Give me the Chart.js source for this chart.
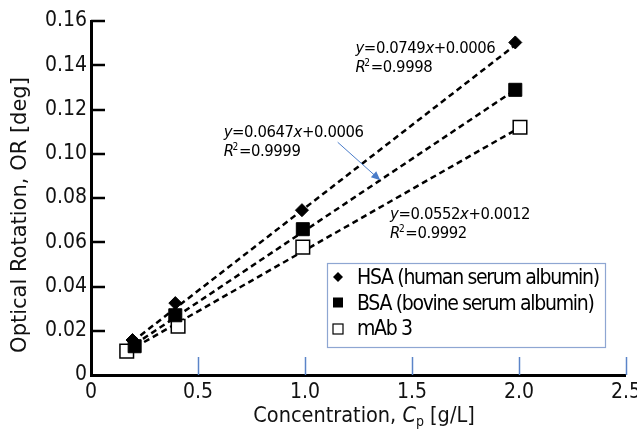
<!DOCTYPE html>
<html><head><meta charset="utf-8">
<script src="https://cdn.jsdelivr.net/npm/chart.js@4/dist/chart.umd.min.js"></script>
<style>html,body{margin:0;padding:0;background:#fff}#wrap{width:637px;height:434px}</style>
</head><body><div id="wrap"><canvas id="c" width="637" height="434"></canvas></div>
<script>
// ---- data ----
const seriesNames = ['HSA (human serum albumin)', 'BSA (bovine serum albumin)', 'mAb 3'];
const hsaX = [0.194, 0.394, 0.986, 1.983];
const hsaY = [0.0158, 0.0325, 0.0745, 0.1503];
const bsaX = [0.204, 0.394, 0.990, 1.983];
const bsaY = [0.0130, 0.0270, 0.0659, 0.1289];
const mabX = [0.167, 0.407, 0.990, 2.005];
const mabY = [0.0108, 0.0220, 0.0578, 0.1120];
// fitted trend lines as printed on the chart
const fitSlopes = [0.0749, 0.0647, 0.0552];
const fitIntercepts = [0.0006, 0.0006, 0.0012];
const fitR2 = ['0.9998', '0.9999', '0.9992'];
const xTicks = [0, 0.5, 1.0, 1.5, 2.0, 2.5];
const yTicks = [0, 0.02, 0.04, 0.06, 0.08, 0.10, 0.12, 0.14, 0.16];
const xTitle = ['Concentration, ', 'C', 'p', ' [g/L]'];
const yTitle = 'Optical Rotation, OR [deg]';

const xs = [hsaX, bsaX, mabX];
const ys = [hsaY, bsaY, mabY];
function pts(X, Y) { return X.map((x, i) => ({x: x, y: Y[i]})); }
function trend(k) {
  const lo = Math.min(...xs[k]), hi = Math.max(...xs[k]);
  return [{x: lo, y: fitSlopes[k]*lo + fitIntercepts[k]}, {x: hi, y: fitSlopes[k]*hi + fitIntercepts[k]}];
}

const markerStyles = [
  {pointStyle: 'rectRot', pointRadius: 6.5, pointBackgroundColor: '#000', pointBorderColor: '#000', pointBorderWidth: 1},
  {pointStyle: 'rect', pointRadius: 9.2, pointBackgroundColor: '#000', pointBorderColor: '#000', pointBorderWidth: 1},
  {pointStyle: 'rect', pointRadius: 9.6, pointBackgroundColor: '#fff', pointBorderColor: '#000', pointBorderWidth: 1.5}
];

const datasets = [];
for (let k = 0; k < 3; k++) {
  datasets.push(Object.assign({label: seriesNames[k], data: pts(xs[k], ys[k]), showLine: false, order: 0}, markerStyles[k]));
}
for (let k = 0; k < 3; k++) {
  datasets.push({label: 'fit ' + k, data: trend(k), showLine: true, borderColor: '#000', borderWidth: 2.5,
    borderDash: [6, 4], pointRadius: 0, order: 1, fill: false});
}

const FONT_C = "'DejaVu Sans Condensed', 'DejaVu Sans', sans-serif";
const FONT_R = "'DejaVu Sans', sans-serif";

// annotation anchors (data coordinates of the first line's left baseline)
const eqAnchors = [{x: 1.236, y: 0.1454}, {x: 0.620, y: 0.1075}, {x: 1.398, y: 0.0704}];

const overlay = {
  id: 'overlay',
  afterDraw(chart) {
    const ctx = chart.ctx, xs_ = chart.scales.x, ys_ = chart.scales.y, ca = chart.chartArea;
    ctx.save();
    // inner tick marks
    ctx.strokeStyle = '#000'; ctx.lineWidth = 2.5;
    yTicks.forEach(v => { if (v === 0) return; const py = Math.round(ys_.getPixelForValue(v));
      ctx.beginPath(); ctx.moveTo(ca.left, py); ctx.lineTo(ca.left + 14, py); ctx.stroke(); });
    ctx.strokeStyle = '#5b84c8'; ctx.lineWidth = 1.5;
    xTicks.forEach(v => { if (v === 0) return; const px = Math.round(xs_.getPixelForValue(v)) + 0.5;
      ctx.beginPath(); ctx.moveTo(px, ca.bottom - 18); ctx.lineTo(px, ca.bottom); ctx.stroke(); });

    // equations
    ctx.fillStyle = '#000'; ctx.textBaseline = 'alphabetic'; ctx.textAlign = 'left';
    ctx.letterSpacing = '-0.4px';
    for (let k = 0; k < 3; k++) {
      let px = xs_.getPixelForValue(eqAnchors[k].x), py = ys_.getPixelForValue(eqAnchors[k].y);
      const segs = [['y', true], ['=' + fitSlopes[k].toFixed(4), false], ['x', true], ['+' + fitIntercepts[k].toFixed(4), false]];
      let cx = px;
      segs.forEach(s => { ctx.font = (s[1] ? 'italic ' : '') + '16.5px ' + FONT_C; ctx.fillText(s[0], cx, py); cx += ctx.measureText(s[0]).width; });
      cx = px; const py2 = py + 18.5;
      ctx.font = 'italic 16.5px ' + FONT_C; ctx.fillText('R', cx, py2); cx += ctx.measureText('R').width - 1;
      ctx.font = '10px ' + FONT_C; ctx.fillText('2', cx, py2 - 6); cx += ctx.measureText('2').width + 1;
      ctx.font = '16.5px ' + FONT_C; ctx.fillText('=' + fitR2[k], cx, py2);
    }
    ctx.letterSpacing = '0px';

    // blue arrow pointing to the BSA fit
    const ax0 = xs_.getPixelForValue(1.153), ay0 = ys_.getPixelForValue(0.1052);
    const ax1 = xs_.getPixelForValue(1.352), ay1 = ys_.getPixelForValue(0.0880);
    ctx.strokeStyle = '#4a7cc9'; ctx.fillStyle = '#4a7cc9'; ctx.lineWidth = 1;
    const ang = Math.atan2(ay1 - ay0, ax1 - ax0);
    ctx.beginPath(); ctx.moveTo(ax0, ay0); ctx.lineTo(ax1 - 6 * Math.cos(ang), ay1 - 6 * Math.sin(ang)); ctx.stroke();
    ctx.beginPath(); ctx.moveTo(ax1, ay1);
    ctx.lineTo(ax1 - 9 * Math.cos(ang) + 4 * Math.sin(ang), ay1 - 9 * Math.sin(ang) - 4 * Math.cos(ang));
    ctx.lineTo(ax1 - 9 * Math.cos(ang) - 4 * Math.sin(ang), ay1 - 9 * Math.sin(ang) + 4 * Math.cos(ang));
    ctx.closePath(); ctx.fill();

    // legend box
    const lx = ca.left + 236, ly = ca.top + 242, lw = 278, lh = 84;
    ctx.fillStyle = '#fff'; ctx.fillRect(lx, ly, lw, lh);
    ctx.strokeStyle = '#8ea6d2'; ctx.lineWidth = 1.2; ctx.strokeRect(lx + 0.5, ly + 0.5, lw, lh);
    ctx.font = '21px ' + FONT_C; ctx.textBaseline = 'middle';
    ctx.letterSpacing = '-1.3px';
    for (let k = 0; k < 3; k++) {
      const cy = ly + 14 + k * 25.5, mx = lx + 11;
      ctx.fillStyle = '#000'; ctx.strokeStyle = '#000'; ctx.lineWidth = 1.2;
      if (k === 0) { ctx.beginPath(); ctx.moveTo(mx - 5, cy); ctx.lineTo(mx, cy - 5); ctx.lineTo(mx + 5, cy); ctx.lineTo(mx, cy + 5); ctx.closePath(); ctx.fill(); }
      else if (k === 1) { ctx.fillRect(mx - 5, cy - 5, 10, 10); }
      else { ctx.fillStyle = '#fff'; ctx.fillRect(mx - 5, cy - 4, 10, 10); ctx.strokeRect(mx - 5, cy - 4, 10, 10); }
      ctx.fillStyle = '#000';
      ctx.fillText(seriesNames[k], lx + 30, cy + 2);
    }
    ctx.letterSpacing = '0px';

    // axis titles
    ctx.fillStyle = '#111';
    ctx.save(); ctx.translate(21, 215); ctx.rotate(-Math.PI / 2);
    ctx.font = '21px ' + FONT_R; ctx.textAlign = 'center'; ctx.textBaseline = 'middle';
    ctx.fillText(yTitle, 0, 0); ctx.restore();

    ctx.textAlign = 'left'; ctx.textBaseline = 'alphabetic';
    const fonts = ['21.5px ' + FONT_C, 'italic 21.5px ' + FONT_C, '14px ' + FONT_C, '21.5px ' + FONT_C];
    let tw = 0; xTitle.forEach((s, i) => { ctx.font = fonts[i]; tw += ctx.measureText(s).width; });
    let cx = 364 - tw / 2; const by = 422;
    xTitle.forEach((s, i) => { ctx.font = fonts[i]; ctx.fillText(s, cx, i === 2 ? by + 4 : by); cx += ctx.measureText(s).width; });
    ctx.restore();
  }
};

new Chart(document.getElementById('c'), {
  type: 'scatter',
  data: {datasets: datasets},
  plugins: [overlay],
  options: {
    responsive: false, animation: false, devicePixelRatio: 1,
    layout: {padding: {top: 21, right: 9, left: 0, bottom: 0}},
    plugins: {legend: {display: false}, tooltip: {enabled: false}, title: {display: false}},
    scales: {
      x: {type: 'linear', min: 0, max: 2.5,
        afterBuildTicks: s => { s.ticks = xTicks.map(v => ({value: v})); },
        ticks: {font: {family: FONT_C, size: 21}, color: '#111', padding: 5, maxRotation: 0,
          callback: v => v === 0 ? '0' : Number(v).toFixed(1)},
        grid: {display: false, drawTicks: false},
        border: {display: true, color: '#000', width: 3},
        afterFit: s => { s.height = 59; s.paddingLeft = 0; s.paddingRight = 0; }
      },
      y: {type: 'linear', min: 0, max: 0.16,
        afterBuildTicks: s => { s.ticks = yTicks.map(v => ({value: v})); },
        ticks: {font: {family: FONT_C, size: 21}, color: '#111', padding: 4,
          callback: v => v === 0 ? '0' : Number(v).toFixed(2)},
        grid: {display: false, drawTicks: false},
        border: {display: true, color: '#000', width: 3},
        afterFit: s => { s.width = 91; s.paddingTop = 0; s.paddingBottom = 0; }
      }
    }
  }
});
</script></body></html>
